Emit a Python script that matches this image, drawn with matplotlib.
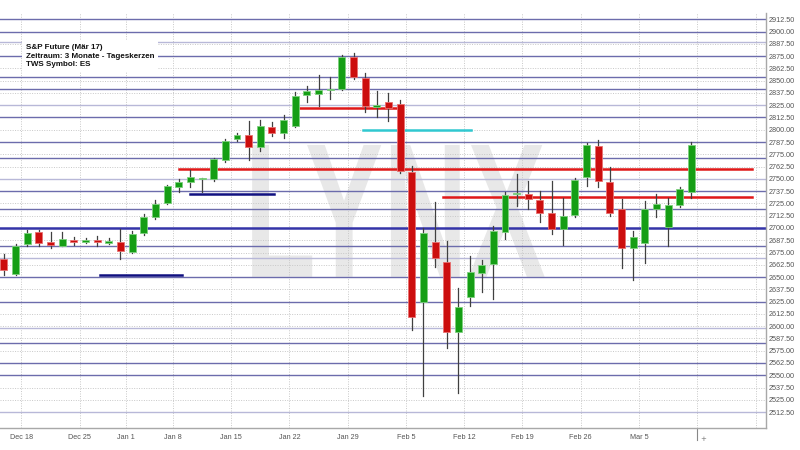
import matplotlib
matplotlib.use("Agg")
import matplotlib.pyplot as plt
import matplotlib.transforms as mtransforms
from matplotlib.textpath import TextPath
from matplotlib.patches import PathPatch, Rectangle
from matplotlib.font_manager import FontProperties

# Tageskerzen, ein Wert pro Handelstag (14. Dez bis 9. Maerz)
opens = [2668.4, 2653.0, 2684.0, 2695.6, 2685.7, 2682.0, 2687.5, 2686.0, 2688.1, 2685.0,
         2685.4, 2676.0, 2694.6, 2710.9, 2725.0, 2742.0, 2747.0, 2750.3, 2750.0, 2769.0,
         2790.3, 2794.7, 2782.8, 2802.5, 2797.0, 2804.0, 2835.4, 2836.4, 2840.0, 2841.5,
         2874.4, 2853.0, 2823.0, 2828.6, 2826.0, 2757.3, 2625.0, 2685.4, 2665.0, 2594.4,
         2629.4, 2653.8, 2663.3, 2696.2, 2735.0, 2734.6, 2728.5, 2715.0, 2699.0, 2713.2,
         2752.2, 2783.5, 2746.5, 2719.0, 2679.3, 2684.4, 2719.3, 2701.3, 2723.4, 2737.0]
highs = [2673.5, 2684.0, 2698.0, 2698.0, 2696.2, 2696.0, 2691.0, 2690.0, 2691.8, 2690.0,
         2698.7, 2697.2, 2714.2, 2728.5, 2744.0, 2750.0, 2759.0, 2751.0, 2771.6, 2790.3,
         2796.4, 2809.0, 2810.0, 2807.6, 2815.0, 2838.0, 2844.6, 2855.8, 2853.4, 2876.0,
         2878.0, 2858.0, 2839.5, 2837.8, 2830.3, 2763.0, 2699.7, 2726.8, 2687.0, 2638.6,
         2671.8, 2667.4, 2702.0, 2737.0, 2754.7, 2748.0, 2738.0, 2748.0, 2730.2, 2750.6,
         2786.8, 2789.6, 2761.8, 2730.0, 2697.0, 2727.8, 2734.6, 2730.2, 2742.0, 2787.8]
lows = [2652.0, 2652.0, 2682.0, 2682.0, 2679.3, 2681.5, 2682.7, 2684.4, 2681.6, 2683.4,
        2668.0, 2675.0, 2692.9, 2708.8, 2724.0, 2736.3, 2742.0, 2736.3, 2747.8, 2767.0,
        2788.6, 2769.0, 2778.7, 2794.0, 2791.3, 2802.5, 2828.6, 2824.5, 2831.0, 2840.5,
        2851.4, 2818.4, 2812.7, 2809.0, 2755.7, 2596.0, 2529.0, 2660.6, 2577.5, 2531.6,
        2620.5, 2634.5, 2627.4, 2688.5, 2722.4, 2719.3, 2706.4, 2693.6, 2682.7, 2710.9,
        2742.7, 2742.0, 2712.2, 2659.0, 2647.0, 2664.6, 2710.9, 2681.6, 2721.7, 2730.2]
closes = [2657.0, 2682.0, 2695.0, 2685.0, 2682.7, 2688.5, 2685.8, 2687.8, 2685.7, 2686.7,
          2677.0, 2693.6, 2711.5, 2724.4, 2743.0, 2747.1, 2752.2, 2750.8, 2770.2, 2788.6,
          2794.7, 2782.8, 2803.8, 2796.4, 2810.0, 2834.7, 2839.5, 2840.5, 2841.0, 2874.4,
          2854.1, 2824.5, 2825.0, 2822.0, 2758.0, 2609.0, 2694.6, 2669.0, 2594.4, 2619.8,
          2655.5, 2662.3, 2696.9, 2733.6, 2735.8, 2729.2, 2715.0, 2699.0, 2712.2, 2748.9,
          2784.5, 2748.0, 2715.0, 2679.3, 2690.5, 2719.3, 2724.4, 2723.4, 2739.4, 2784.5]

# erster Handelstag jeder Woche (Kerzen-Index)
week_pos = [2, 7, 11, 15, 20, 25, 30, 35, 40, 45, 50, 55]
week_labels = ["Dec 18", "Dec 25", "Jan 1", "Jan 8", "Jan 15", "Jan 22", "Jan 29",
               "Feb 5", "Feb 12", "Feb 19", "Feb 26", "Mar 5"]
future_weeks = [60, 65]

# horizontale Linien
level_dark = [2912.5, 2900.0, 2875.0, 2854.0, 2841.2, 2812.5, 2787.5, 2771.0, 2737.5,
              2719.0, 2682.0, 2650.0, 2625.0, 2582.5, 2562.5, 2550.0]
level_light = [2889.7, 2825.0, 2750.0, 2669.0, 2598.0, 2512.5]
level_main = 2700.0

# gezeichnete Linien: (Kurs, von Kerze, bis Kerze)
red_lines = [(2760.0, 15.0, 64.2), (2731.2, 37.7, 64.2), (2822.5, 25.3, 33.7)]
cyan_lines = [(2800.0, 30.8, 40.1)]
navy_lines = [(2652.5, 8.2, 15.25), (2735.0, 16.0, 23.2)]

y_ticks = [2512.5 + 12.5 * k for k in range(33)]

fig = plt.figure(figsize=(8, 4.5), dpi=100)
ax = fig.add_axes([0, 22 / 450, 766 / 800, 415 / 450])
ax.set_xlim(-0.34, 65.4)
ax.set_ylim(2496.3, 2918.9)

# Wasserzeichen
fp = FontProperties(family="Liberation Sans", weight="bold")
tp = TextPath((0, 0), "LYNX", size=100, prop=fp)
bb = tp.get_extents()
x0, x1, y0, y1 = 21.3, 46.4, 2650.2, 2784.5
tr = mtransforms.Affine2D().translate(-bb.x0, -bb.y0).scale(
    (x1 - x0) / bb.width, (y1 - y0) / bb.height).translate(x0, y0)
ax.add_patch(PathPatch(tr.transform_path(tp), facecolor="#e8e8e8", edgecolor="none", zorder=0))

# Gitter
for v in y_ticks:
    ax.axhline(v, color="#c8c8c8", lw=0.7, ls=(0, (1, 1.5)), zorder=1)
for p in week_pos + future_weeks:
    ax.axvline(p - 0.5, color="#c8c8c8", lw=0.7, ls=(0, (1, 1.5)), zorder=1)

for v in level_dark:
    ax.axhline(v, color="#6c6cac", lw=1.0, zorder=2)
for v in level_light:
    ax.axhline(v, color="#b8b8d8", lw=1.0, zorder=2)
ax.axhline(level_main, color="#3434a8", lw=1.8, zorder=2)

for v, a, b in red_lines:
    ax.plot([a, b], [v, v], color="#e01818", lw=1.8, zorder=3)
for v, a, b in cyan_lines:
    ax.plot([a, b], [v, v], color="#30c8d0", lw=1.8, zorder=3)
for v, a, b in navy_lines:
    ax.plot([a, b], [v, v], color="#101080", lw=1.8, zorder=3)

# Kerzen
w = 0.6
for i, (o, h, l, c) in enumerate(zip(opens, highs, lows, closes)):
    up = c >= o
    fc = "#159e15" if up else "#cc0e0e"
    ec = "#7ed07e" if up else "#e87070"
    ax.plot([i, i], [l, h], color="#404040", lw=0.9, zorder=4)
    lo, hi = min(o, c), max(o, c)
    ax.add_patch(Rectangle((i - w / 2, lo), w, max(hi - lo, 0.8), facecolor=fc,
                           edgecolor=ec, lw=0.6, zorder=5))

# Achsen
ax.yaxis.tick_right()
ax.set_yticks(y_ticks)
ax.set_yticklabels([f"{v:.2f}" for v in y_ticks])
ax.set_xticks([p - 0.5 for p in week_pos])
ax.set_xticklabels(week_labels)
for lab in ax.get_xticklabels() + ax.get_yticklabels():
    lab.set_family("Liberation Sans")
ax.tick_params(axis="y", length=0, pad=2, labelsize=5.2, labelcolor="#555555")
ax.tick_params(axis="x", length=0, pad=4, labelsize=5.2, labelcolor="#555555")
for s in ["left", "top"]:
    ax.spines[s].set_visible(False)
for s in ["right", "bottom"]:
    ax.spines[s].set_color("#a8a8a8")
    ax.spines[s].set_linewidth(1.0)

blend = mtransforms.blended_transform_factory(ax.transData, ax.transAxes)
ax.plot([59.5, 59.5], [0, -0.028], transform=blend, color="#888888", lw=0.8, clip_on=False)
ax.text(59.75, -0.026, "+", transform=blend, fontsize=5, color="#777777", ha="left", va="center")

fig.text(26 / 800, 1 - 44 / 450,
         "S&P Future (Mär 17)\nZeitraum: 3 Monate - Tageskerzen\nTWS Symbol: ES",
         family="Liberation Sans", weight="bold", fontsize=5.8, linespacing=1.35,
         va="top", ha="left", color="#111111",
         bbox=dict(boxstyle="square,pad=0.45", facecolor="white", edgecolor="none"))

fig.savefig("out.png", dpi=100)
